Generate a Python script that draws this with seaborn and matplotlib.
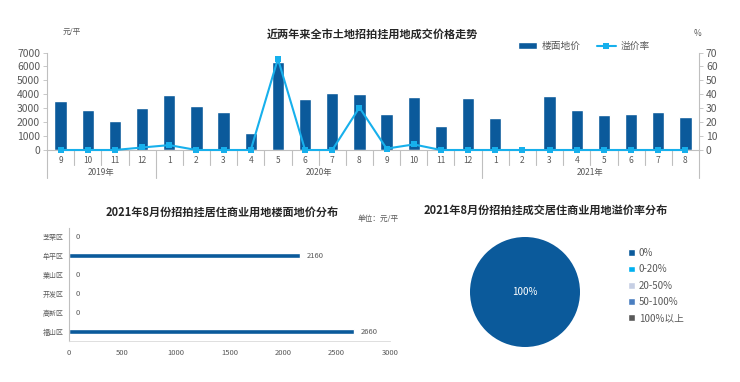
import numpy as np
import pandas as pd
import matplotlib
matplotlib.use('Agg')
import matplotlib.pyplot as plt
import matplotlib.transforms as mtransforms
from matplotlib.lines import Line2D
from matplotlib.patches import Patch
import seaborn as sns

sns.set_theme(style='white')
plt.rcParams['font.family'] = ['Noto Sans CJK SC', 'DejaVu Sans']
plt.rcParams['axes.unicode_minus'] = False

# ============ 数据 ============
months = ['9', '10', '11', '12',
          '1', '2', '3', '4', '5', '6', '7', '8', '9', '10', '11', '12',
          '1', '2', '3', '4', '5', '6', '7', '8']
years = ['2019年', '2020年', '2021年']
year_span = [4, 12, 8]
floor_price = [3550, 2850, 2050, 3050,
               3950, 3150, 2750, 1200, 6300, 3650, 4100, 4000, 2550, 3800, 1700, 3700,
               2300, 0, 3900, 2900, 2500, 2550, 2700, 2400]
premium_rate = [0, 0, 0, 1.8,
                3.5, 0, 0, 0, 65.5, 0, 0, 30.5, 1, 4, 0, 0,
                0, 0, 0, 0, 0, 0, 0, 0]

districts = ['芝罘区', '牟平区', '莱山区', '开发区', '高新区', '福山区']
district_price = [0, 2160, 0, 0, 0, 2660]

pie_labels = ['0%', '0-20%', '20-50%', '50-100%', '100%以上']
pie_share = [100, 0, 0, 0, 0]
# =============================

BLUE = '#0b5a9b'
CYAN = '#17b0ec'
GRID = '#bfbfbf'
TXT = '#595959'
pie_colors = ['#0b5a9b', '#00b0f0', '#c6cfe4', '#4a7ec0', '#595959']

W, H = 740, 382
fig = plt.figure(figsize=(W / 100, H / 100), dpi=100)


def box(x0, y0, x1, y1):
    # 像素坐标 -> figure 坐标
    return [x0 / W, 1 - y1 / H, (x1 - x0) / W, (y1 - y0) / H]


# ---------- 上图：楼面地价 + 溢价率 ----------
ax = fig.add_axes(box(47, 52.5, 699, 150))
df = pd.DataFrame({'pos': range(len(months)), 'price': floor_price, 'rate': premium_rate})
sns.barplot(data=df, x='pos', y='price', color=BLUE, saturation=1, width=0.45, ax=ax)
ax.set_xlim(-0.5, len(months) - 0.5)
ax.set_ylim(0, 7000)
ax.set_yticks(range(0, 7001, 1000))
ax.set_xticks(range(len(months)))
ax.set_xticklabels(months)
ax.set_xlabel('')
ax.set_ylabel('')
ax.tick_params(axis='x', length=0, pad=4, labelsize=6, labelcolor=TXT)
ax.tick_params(axis='y', length=3, width=0.6, color=GRID, direction='out', pad=2,
               labelsize=7.5, labelcolor=TXT)
for s in ['top', 'right']:
    ax.spines[s].set_visible(False)
for s in ['left', 'bottom']:
    ax.spines[s].set_color(GRID)
    ax.spines[s].set_linewidth(0.8)

ax2 = ax.twinx()
sns.lineplot(data=df, x='pos', y='rate', color=CYAN, marker='s', markersize=5,
             markeredgewidth=0, linewidth=1.5, ax=ax2)
for ln in ax2.lines:
    ln.set_clip_on(False)
ax2.set_ylim(0, 70)
ax2.set_yticks(range(0, 71, 10))
ax2.set_ylabel('')
ax2.tick_params(axis='y', length=3, width=0.6, color=GRID, direction='out', pad=2,
                labelsize=7.5, labelcolor=TXT)
for s in ['top', 'left', 'bottom']:
    ax2.spines[s].set_visible(False)
ax2.spines['right'].set_color(GRID)
ax2.spines['right'].set_linewidth(0.8)

# 分类轴分隔线和年份
trans = mtransforms.blended_transform_factory(ax.transData, ax.transAxes)
bounds = np.cumsum([0] + year_span) - 0.5
for i in range(len(months) + 1):
    x = i - 0.5
    y_end = -0.29 if x in bounds else -0.155
    ax.add_line(Line2D([x, x], [0, y_end], transform=trans, color=GRID, lw=0.8, clip_on=False))
for k, yr in enumerate(years):
    xc = (bounds[k] + bounds[k + 1]) / 2
    ax.text(xc, -0.235, yr, transform=trans, ha='center', va='center', fontsize=6, color=TXT)

fig.text(372 / W, 1 - 34 / H, '近两年来全市土地招拍挂用地成交价格走势', ha='center', va='center',
         fontsize=8, fontweight='bold', color='#262626')
fig.text(72 / W, 1 - 32 / H, '元/平', ha='center', va='center', fontsize=5.5, color=TXT)
fig.text(698 / W, 1 - 33 / H, '%', ha='center', va='center', fontsize=6, color=TXT)
fig.legend(handles=[Patch(facecolor=BLUE),
                    Line2D([], [], color=CYAN, marker='s', markersize=5, markeredgewidth=0, lw=1.5)],
           labels=['楼面地价', '溢价率'], ncol=2, loc='center',
           bbox_to_anchor=(584 / W, 1 - 46 / H), frameon=False, fontsize=7,
           handlelength=2.0, handleheight=0.7, columnspacing=1.6, handletextpad=0.5,
           labelcolor=TXT)

# ---------- 左下：各区楼面地价 ----------
ax3 = fig.add_axes(box(69, 227.5, 390, 341))
dfd = pd.DataFrame({'district': districts, 'price': district_price})
sns.barplot(data=dfd, y='district', x='price', orient='h', color=BLUE, saturation=1,
            width=0.27, ax=ax3)
ax3.set_xlim(0, 3000)
ax3.set_xticks(range(0, 3001, 500))
ax3.set_ylim(len(districts) - 0.5, -0.5)
ax3.set_yticks(np.arange(-0.5, len(districts), 1), minor=True)
ax3.set_xlabel('')
ax3.set_ylabel('')
ax3.tick_params(axis='y', which='major', length=0, pad=4, labelsize=5, labelcolor=TXT)
ax3.tick_params(axis='y', which='minor', length=3, width=0.6, color=GRID, direction='out')
ax3.tick_params(axis='x', length=2, width=0.6, color=GRID, direction='out', pad=4,
                labelsize=5.5, labelcolor=TXT)
for s in ['top', 'right']:
    ax3.spines[s].set_visible(False)
ax3.spines['left'].set_color(GRID)
ax3.spines['left'].set_linewidth(0.8)
ax3.spines['bottom'].set_color('#d9d9d9')
ax3.spines['bottom'].set_linewidth(0.6)
for i, v in enumerate(district_price):
    ax3.annotate(str(v), (v, i), xytext=(5, 0), textcoords='offset points',
                 ha='left', va='center', fontsize=5.5, color=TXT)

fig.text(222 / W, 1 - 212 / H, '2021年8月份招拍挂居住商业用地楼面地价分布', ha='center', va='center',
         fontsize=8, fontweight='bold', color='#262626')
fig.text(378 / W, 1 - 219 / H, '单位：元/平', ha='center', va='center', fontsize=5.5, color=TXT)

# ---------- 右下：溢价率分布饼图 ----------
ax4 = fig.add_axes(box(470, 237, 580, 347))
ax4.pie(pie_share, colors=pie_colors, startangle=90, counterclock=False,
        autopct=lambda p: f'{p:.0f}%' if p > 0 else '', pctdistance=0,
        wedgeprops={'linewidth': 0, 'edgecolor': 'none'},
        textprops={'color': 'white', 'fontsize': 7})
ax4.set_xlim(-1, 1)
ax4.set_ylim(-1, 1)
ax4.set_aspect('equal')

fig.text(546 / W, 1 - 210 / H, '2021年8月份招拍挂成交居住商业用地溢价率分布', ha='center', va='center',
         fontsize=8, fontweight='bold', color='#262626')
fig.legend(handles=[Patch(facecolor=c) for c in pie_colors], labels=pie_labels,
           loc='upper left', bbox_to_anchor=(628 / W, 1 - 248 / H), frameon=False,
           fontsize=7, handlelength=0.7, handleheight=0.7, handletextpad=0.4,
           labelspacing=0.65, labelcolor=TXT, borderaxespad=0, borderpad=0)

fig.savefig('out.png', dpi=100)
